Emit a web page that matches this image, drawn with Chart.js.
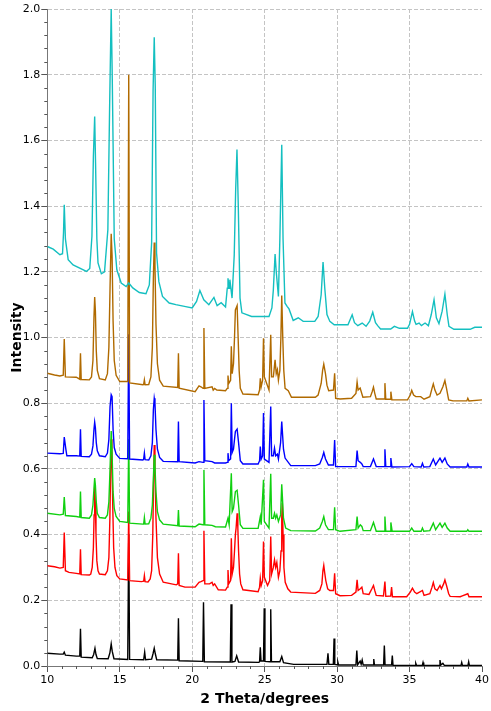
<!DOCTYPE html>
<html>
<head>
<meta charset="utf-8">
<script src="https://cdn.jsdelivr.net/npm/chart.js@4/dist/chart.umd.min.js"></script>
<style>
html,body{margin:0;padding:0;background:#fff;}
#wrap{width:491px;height:711px;}
</style>
</head>
<body>
<div id="wrap"><canvas id="c" width="491" height="711"></canvas></div>
<script>
// ---- Data (2θ, intensity) ----
const xTicks = [10, 15, 20, 25, 30, 35, 40];
const yTicks = [0.0, 0.2, 0.4, 0.6, 0.8, 1.0, 1.2, 1.4, 1.6, 1.8, 2.0];
const xMinorTicks = [11,12,13,14,16,17,18,19,21,22,23,24,26,27,28,29,31,32,33,34,36,37,38,39];
const yMinorTicks = [0.04,0.08,0.12,0.16,0.24,0.28,0.32,0.36,0.44,0.48,0.52,0.56,0.64,0.68,0.72,0.76,0.84,0.88,0.92,0.96,1.04,1.08,1.12,1.16,1.24,1.28,1.32,1.36,1.44,1.48,1.52,1.56,1.64,1.68,1.72,1.76,1.84,1.88,1.92,1.96];

const seriesBlack = [[10.0,0.039],[10.87,0.036],[11.1,0.036],[11.17,0.042],[11.25,0.033],[12.0,0.030],[12.24,0.030],[12.29,0.113],[12.34,0.027],[13.1,0.025],[13.2,0.035],[13.29,0.054],[13.36,0.035],[13.45,0.023],[14.2,0.022],[14.32,0.04],[14.41,0.067],[14.48,0.045],[14.6,0.022],[15.55,0.020],[15.62,0.40],[15.68,0.020],[16.65,0.019],[16.72,0.042],[16.78,0.019],[17.2,0.021],[17.3,0.038],[17.38,0.054],[17.45,0.038],[17.55,0.019],[19.0,0.018],[19.05,0.145],[19.1,0.016],[20.73,0.014],[20.78,0.194],[20.84,0.013],[22.63,0.012],[22.68,0.188],[22.74,0.012],[22.95,0.014],[23.07,0.031],[23.2,0.012],[24.6,0.011],[24.65,0.013],[24.7,0.057],[24.75,0.015],[24.92,0.015],[24.97,0.176],[25.02,0.014],[25.37,0.013],[25.42,0.173],[25.47,0.013],[26.05,0.013],[26.18,0.029],[26.3,0.010],[27.0,0.005],[29.3,0.005],[29.37,0.039],[29.43,0.005],[29.74,0.005],[29.79,0.084],[29.84,0.005],[30.0,0.004],[30.05,0.012],[30.1,0.003],[31.3,0.003],[31.36,0.047],[31.42,0.004],[31.59,0.015],[31.66,0.005],[31.73,0.018],[31.8,0.003],[32.48,0.003],[32.53,0.021],[32.58,0.003],[33.21,0.003],[33.26,0.062],[33.31,0.003],[33.76,0.003],[33.81,0.032],[33.86,0.002],[35.38,0.002],[35.43,0.008],[35.48,0.002],[35.88,0.002],[35.93,0.011],[35.98,0.002],[37.05,0.002],[37.1,0.018],[37.16,0.003],[37.3,0.008],[37.4,0.002],[38.55,0.002],[38.6,0.011],[38.65,0.002],[39.03,0.002],[39.08,0.013],[39.13,0.002],[40.0,0.002]];

const seriesRed = [[10.0,0.305],[10.5,0.302],[10.87,0.298],[11.1,0.30],[11.17,0.406],[11.25,0.29],[11.5,0.285],[12.0,0.282],[12.24,0.28],[12.29,0.355],[12.34,0.278],[12.9,0.277],[13.0,0.28],[13.1,0.30],[13.18,0.36],[13.23,0.46],[13.27,0.55],[13.31,0.50],[13.36,0.40],[13.42,0.32],[13.5,0.29],[13.6,0.28],[14.0,0.278],[14.15,0.29],[14.25,0.33],[14.32,0.45],[14.37,0.60],[14.41,0.69],[14.46,0.63],[14.52,0.48],[14.58,0.36],[14.67,0.30],[14.8,0.275],[15.0,0.265],[15.55,0.262],[15.62,0.47],[15.68,0.26],[16.5,0.257],[16.65,0.258],[16.7,0.275],[16.75,0.257],[16.95,0.256],[17.1,0.265],[17.2,0.29],[17.28,0.40],[17.33,0.55],[17.38,0.673],[17.43,0.60],[17.5,0.45],[17.6,0.33],[17.75,0.28],[18.0,0.255],[18.9,0.247],[19.0,0.25],[19.05,0.343],[19.1,0.245],[19.5,0.24],[20.2,0.24],[20.47,0.255],[20.6,0.257],[20.75,0.26],[20.81,0.412],[20.87,0.25],[21.2,0.25],[21.37,0.255],[21.45,0.245],[21.55,0.25],[21.8,0.232],[22.3,0.231],[22.42,0.24],[22.47,0.292],[22.52,0.25],[22.65,0.26],[22.7,0.389],[22.76,0.28],[22.85,0.30],[22.92,0.35],[22.98,0.40],[23.03,0.42],[23.1,0.465],[23.15,0.42],[23.2,0.35],[23.27,0.28],[23.35,0.25],[23.5,0.232],[24.55,0.226],[24.65,0.24],[24.7,0.267],[24.76,0.245],[24.86,0.26],[24.92,0.379],[24.98,0.27],[25.2,0.245],[25.35,0.26],[25.42,0.394],[25.48,0.28],[25.6,0.30],[25.68,0.323],[25.76,0.30],[25.84,0.315],[25.95,0.27],[26.05,0.29],[26.13,0.35],[26.18,0.45],[26.22,0.496],[26.27,0.40],[26.33,0.30],[26.42,0.255],[26.6,0.235],[26.8,0.225],[28.5,0.221],[28.8,0.23],[28.95,0.25],[29.02,0.29],[29.08,0.306],[29.14,0.285],[29.22,0.26],[29.35,0.235],[29.5,0.23],[29.75,0.23],[29.83,0.282],[29.9,0.22],[30.2,0.214],[31.0,0.215],[31.3,0.225],[31.38,0.262],[31.45,0.23],[31.6,0.235],[31.71,0.24],[31.8,0.22],[32.2,0.218],[32.4,0.235],[32.51,0.245],[32.6,0.23],[32.7,0.215],[33.2,0.213],[33.3,0.257],[33.36,0.212],[33.7,0.213],[33.76,0.24],[33.82,0.211],[34.8,0.211],[35.05,0.225],[35.2,0.237],[35.35,0.225],[35.5,0.22],[35.89,0.23],[36.0,0.215],[36.4,0.22],[36.55,0.24],[36.64,0.254],[36.75,0.235],[36.9,0.23],[37.1,0.245],[37.2,0.235],[37.35,0.25],[37.44,0.262],[37.55,0.245],[37.7,0.22],[37.8,0.212],[38.5,0.211],[38.6,0.213],[39.02,0.22],[39.1,0.211],[40.0,0.211]];

const seriesGreen = [[10.0,0.465],[10.87,0.46],[11.1,0.462],[11.17,0.514],[11.25,0.458],[12.0,0.455],[12.24,0.453],[12.29,0.531],[12.34,0.452],[12.9,0.45],[13.05,0.46],[13.15,0.49],[13.22,0.54],[13.27,0.572],[13.32,0.55],[13.38,0.50],[13.45,0.465],[13.6,0.452],[14.0,0.45],[14.15,0.46],[14.25,0.50],[14.33,0.60],[14.41,0.715],[14.47,0.65],[14.54,0.53],[14.62,0.48],[14.75,0.455],[15.0,0.44],[15.55,0.437],[15.62,0.69],[15.68,0.435],[16.6,0.432],[16.65,0.432],[16.7,0.452],[16.75,0.432],[17.0,0.433],[17.15,0.45],[17.25,0.49],[17.32,0.57],[17.38,0.643],[17.43,0.61],[17.5,0.53],[17.6,0.47],[17.75,0.445],[18.0,0.432],[19.0,0.427],[19.05,0.475],[19.1,0.426],[20.2,0.424],[20.47,0.432],[20.75,0.43],[20.81,0.597],[20.87,0.43],[21.37,0.428],[21.6,0.424],[22.3,0.423],[22.47,0.45],[22.55,0.43],[22.7,0.587],[22.76,0.47],[22.85,0.48],[22.98,0.531],[23.1,0.535],[23.2,0.49],[23.32,0.43],[23.5,0.419],[24.55,0.419],[24.7,0.455],[24.76,0.43],[24.92,0.567],[24.98,0.44],[25.3,0.42],[25.42,0.585],[25.48,0.45],[25.6,0.45],[25.68,0.465],[25.76,0.45],[25.84,0.46],[25.95,0.44],[26.1,0.46],[26.18,0.553],[26.3,0.45],[26.45,0.42],[26.8,0.412],[28.5,0.411],[28.8,0.42],[28.98,0.44],[29.08,0.455],[29.2,0.43],[29.4,0.415],[29.75,0.415],[29.83,0.483],[29.9,0.415],[30.2,0.41],[31.3,0.415],[31.38,0.455],[31.45,0.42],[31.6,0.43],[31.71,0.425],[31.8,0.412],[32.3,0.412],[32.51,0.437],[32.7,0.41],[33.25,0.41],[33.3,0.455],[33.36,0.41],[33.66,0.41],[33.71,0.437],[33.8,0.41],[35.0,0.41],[35.15,0.42],[35.3,0.41],[35.8,0.41],[35.89,0.42],[35.98,0.41],[36.4,0.412],[36.64,0.435],[36.8,0.415],[37.1,0.435],[37.25,0.422],[37.44,0.435],[37.6,0.42],[37.8,0.41],[38.95,0.41],[39.02,0.415],[39.1,0.41],[40.0,0.41]];

const seriesBlue = [[10.0,0.648],[10.87,0.646],[11.1,0.647],[11.17,0.697],[11.28,0.66],[11.35,0.64],[12.0,0.64],[12.24,0.639],[12.29,0.721],[12.34,0.638],[12.9,0.637],[13.05,0.645],[13.15,0.67],[13.22,0.72],[13.27,0.742],[13.32,0.725],[13.38,0.68],[13.45,0.655],[13.6,0.64],[14.0,0.637],[14.15,0.648],[14.25,0.69],[14.33,0.79],[14.41,0.826],[14.47,0.82],[14.54,0.72],[14.62,0.665],[14.75,0.645],[15.0,0.632],[15.55,0.631],[15.62,1.01],[15.68,0.63],[16.6,0.627],[16.65,0.63],[16.7,0.648],[16.75,0.628],[17.0,0.627],[17.15,0.64],[17.25,0.68],[17.32,0.78],[17.38,0.815],[17.43,0.80],[17.5,0.72],[17.6,0.66],[17.75,0.635],[18.0,0.623],[19.0,0.622],[19.05,0.744],[19.1,0.622],[20.2,0.618],[20.47,0.622],[20.75,0.62],[20.81,0.81],[20.87,0.625],[21.37,0.622],[21.55,0.618],[22.3,0.618],[22.42,0.62],[22.47,0.648],[22.52,0.625],[22.65,0.63],[22.7,0.80],[22.76,0.65],[22.85,0.66],[22.92,0.69],[22.98,0.714],[23.1,0.721],[23.2,0.68],[23.32,0.625],[23.5,0.615],[24.55,0.615],[24.65,0.625],[24.7,0.668],[24.76,0.63],[24.86,0.64],[24.92,0.77],[24.98,0.63],[25.3,0.62],[25.42,0.79],[25.48,0.64],[25.6,0.64],[25.68,0.663],[25.76,0.64],[25.88,0.645],[25.95,0.63],[26.1,0.68],[26.18,0.744],[26.3,0.66],[26.41,0.633],[26.8,0.61],[28.5,0.61],[28.8,0.615],[28.98,0.635],[29.08,0.65],[29.2,0.63],[29.4,0.612],[29.75,0.612],[29.83,0.688],[29.9,0.607],[31.3,0.607],[31.38,0.656],[31.45,0.625],[31.6,0.62],[31.71,0.615],[31.8,0.607],[32.3,0.607],[32.51,0.63],[32.7,0.607],[33.25,0.607],[33.3,0.66],[33.36,0.607],[33.66,0.607],[33.71,0.633],[33.78,0.606],[35.0,0.607],[35.15,0.616],[35.3,0.607],[35.8,0.606],[35.89,0.617],[35.98,0.606],[36.4,0.607],[36.64,0.63],[36.8,0.612],[37.1,0.633],[37.25,0.62],[37.44,0.633],[37.6,0.615],[37.8,0.606],[38.95,0.606],[39.02,0.615],[39.1,0.606],[40.0,0.606]];

const seriesBrown = [[10.0,0.891],[10.5,0.886],[10.87,0.883],[11.1,0.885],[11.17,0.995],[11.25,0.88],[12.0,0.879],[12.24,0.873],[12.29,0.952],[12.34,0.872],[12.9,0.871],[13.05,0.88],[13.15,0.93],[13.22,1.06],[13.27,1.123],[13.32,1.08],[13.38,0.96],[13.45,0.90],[13.6,0.875],[14.0,0.871],[14.15,0.89],[14.25,0.97],[14.33,1.15],[14.41,1.316],[14.47,1.25],[14.54,1.05],[14.62,0.93],[14.75,0.885],[15.0,0.866],[15.55,0.866],[15.62,1.80],[15.68,0.862],[16.6,0.856],[16.65,0.857],[16.7,0.871],[16.75,0.856],[17.0,0.857],[17.15,0.88],[17.25,0.97],[17.32,1.18],[17.38,1.289],[17.43,1.22],[17.5,1.04],[17.6,0.92],[17.75,0.87],[18.0,0.852],[19.0,0.848],[19.05,0.952],[19.1,0.846],[20.2,0.835],[20.47,0.853],[20.6,0.85],[20.75,0.845],[20.81,1.029],[20.87,0.845],[21.37,0.85],[21.45,0.84],[21.55,0.845],[21.7,0.84],[22.3,0.838],[22.42,0.845],[22.47,0.884],[22.52,0.86],[22.65,0.87],[22.7,0.973],[22.76,0.89],[22.85,0.92],[22.92,1.00],[22.98,1.084],[23.1,1.097],[23.17,1.00],[23.24,0.90],[23.32,0.845],[23.5,0.828],[24.55,0.826],[24.65,0.84],[24.7,0.876],[24.76,0.85],[24.86,0.87],[24.92,0.998],[24.98,0.88],[25.3,0.84],[25.42,1.008],[25.48,0.88],[25.6,0.88],[25.72,0.932],[25.8,0.89],[25.88,0.902],[25.95,0.87],[26.05,0.90],[26.12,1.00],[26.18,1.128],[26.25,1.00],[26.32,0.90],[26.41,0.845],[26.63,0.838],[26.85,0.818],[28.5,0.818],[28.69,0.825],[28.9,0.86],[29.0,0.90],[29.08,0.919],[29.2,0.889],[29.3,0.855],[29.42,0.838],[29.75,0.84],[29.83,0.891],[29.9,0.815],[30.2,0.813],[31.0,0.815],[31.3,0.83],[31.38,0.864],[31.45,0.84],[31.59,0.846],[31.78,0.818],[32.3,0.82],[32.42,0.835],[32.51,0.849],[32.6,0.83],[32.7,0.813],[33.25,0.813],[33.3,0.861],[33.36,0.812],[33.66,0.812],[33.71,0.835],[33.78,0.81],[34.86,0.81],[35.05,0.825],[35.15,0.839],[35.28,0.825],[35.43,0.82],[35.77,0.82],[36.0,0.812],[36.4,0.82],[36.55,0.845],[36.64,0.859],[36.75,0.84],[36.9,0.825],[37.1,0.83],[37.3,0.85],[37.44,0.869],[37.55,0.845],[37.7,0.81],[38.0,0.807],[38.95,0.807],[39.02,0.815],[39.1,0.807],[40.0,0.81]];

const seriesCyan = [[10.0,1.277],[10.41,1.269],[10.87,1.252],[11.05,1.255],[11.12,1.32],[11.17,1.404],[11.25,1.30],[11.44,1.237],[11.78,1.221],[12.24,1.211],[12.7,1.201],[12.93,1.21],[13.08,1.308],[13.18,1.55],[13.27,1.673],[13.33,1.532],[13.42,1.30],[13.5,1.227],[13.73,1.194],[13.95,1.20],[14.18,1.328],[14.3,1.70],[14.41,2.0],[14.48,1.80],[14.54,1.59],[14.62,1.30],[14.8,1.206],[15.1,1.166],[15.44,1.155],[15.62,1.166],[15.9,1.151],[16.35,1.137],[16.81,1.133],[17.04,1.16],[17.2,1.288],[17.3,1.75],[17.38,1.914],[17.45,1.765],[17.54,1.257],[17.7,1.17],[17.95,1.125],[18.41,1.105],[18.87,1.10],[19.55,1.094],[20.0,1.09],[20.3,1.11],[20.53,1.143],[20.8,1.115],[21.15,1.10],[21.5,1.122],[21.72,1.097],[22.0,1.106],[22.3,1.093],[22.42,1.15],[22.47,1.18],[22.55,1.15],[22.6,1.176],[22.75,1.12],[22.9,1.25],[23.0,1.45],[23.09,1.572],[23.18,1.40],[23.3,1.12],[23.43,1.075],[24.1,1.064],[25.3,1.064],[25.5,1.09],[25.6,1.145],[25.72,1.254],[25.8,1.20],[25.95,1.125],[26.05,1.30],[26.18,1.587],[26.27,1.30],[26.4,1.105],[26.55,1.095],[26.68,1.087],[26.97,1.052],[27.32,1.06],[27.66,1.049],[28.46,1.049],[28.69,1.064],[28.9,1.13],[29.03,1.23],[29.15,1.15],[29.3,1.07],[29.5,1.049],[29.8,1.039],[30.75,1.039],[31.04,1.069],[31.2,1.045],[31.43,1.036],[31.73,1.044],[32.0,1.034],[32.25,1.05],[32.46,1.077],[32.65,1.045],[32.8,1.036],[33.0,1.026],[33.7,1.026],[33.95,1.034],[34.3,1.028],[34.86,1.028],[35.0,1.04],[35.2,1.079],[35.35,1.05],[35.45,1.04],[35.66,1.044],[35.82,1.036],[36.07,1.044],[36.3,1.036],[36.5,1.07],[36.69,1.115],[36.85,1.06],[37.03,1.042],[37.25,1.08],[37.44,1.132],[37.6,1.07],[37.72,1.034],[38.06,1.025],[39.18,1.025],[39.5,1.031],[40.0,1.031]];

// ---- Chart ----
const toXY = arr => arr.map(p => ({x: p[0], y: p[1]}));
const mk = (data, color) => ({data: toXY(data), borderColor: color, borderWidth: 1.4, pointRadius: 0, tension: 0, fill: false});

const minorTicksPlugin = {
  id: 'minorTicks',
  afterDraw(chart) {
    const {ctx, chartArea: a, scales: {x, y}} = chart;
    ctx.save();
    ctx.strokeStyle = '#555';
    ctx.lineWidth = 1;
    ctx.beginPath();
    xMinorTicks.forEach(v => {
      const px = Math.round(x.getPixelForValue(v)) + 0.5;
      ctx.moveTo(px, a.bottom); ctx.lineTo(px, a.bottom + 3);
    });
    yMinorTicks.forEach(v => {
      const py = Math.round(y.getPixelForValue(v)) + 0.5;
      ctx.moveTo(a.left - 3, py); ctx.lineTo(a.left, py);
    });
    ctx.stroke();
    ctx.restore();
  }
};

const tickFont = {family: "Tahoma, 'DejaVu Sans', sans-serif", size: 11};
const titleFont = {family: "Tahoma, 'DejaVu Sans', sans-serif", size: 14, weight: 'bold'};

new Chart(document.getElementById('c'), {
  type: 'line',
  data: {
    datasets: [
      mk(seriesCyan, '#14bfc0'),
      mk(seriesBrown, '#b06a00'),
      mk(seriesBlue, '#0000ff'),
      mk(seriesGreen, '#10d010'),
      mk(seriesRed, '#ff0000'),
      mk(seriesBlack, '#000000')
    ]
  },
  plugins: [minorTicksPlugin],
  options: {
    responsive: false,
    animation: false,
    devicePixelRatio: 1,
    layout: {padding: {left: 0, right: 6, top: 9, bottom: 0}},
    plugins: {legend: {display: false}, tooltip: {enabled: false}},
    scales: {
      x: {
        type: 'linear', min: 10, max: 40,
        afterBuildTicks: s => { s.ticks = xTicks.map(v => ({value: v})); },
        afterFit: s => { s.height = 45; },
        ticks: {font: tickFont, color: '#000', padding: 2, maxRotation: 0, callback: v => String(v)},
        grid: {
          color: ctx => (ctx.tick && ctx.tick.value === 40) ? 'rgba(0,0,0,0)' : '#c4c4c4',
          lineWidth: 1, tickLength: 6, tickColor: '#555', tickBorderDash: []
        },
        border: {display: true, color: '#777', width: 1, dash: [4, 2]},
        title: {display: true, text: '2 Theta/degrees', font: titleFont, color: '#000', padding: {top: 0, bottom: 3}}
      },
      y: {
        type: 'linear', min: 0, max: 2.0,
        afterBuildTicks: s => { s.ticks = yTicks.map(v => ({value: v})); },
        afterFit: s => { s.width = 47.3; },
        ticks: {font: tickFont, color: '#000', padding: 1, callback: v => Number(v).toFixed(1)},
        grid: {color: '#c4c4c4', lineWidth: 1, tickLength: 6, tickColor: '#555', tickBorderDash: []},
        border: {display: true, color: '#777', width: 1, dash: [4, 2]},
        title: {display: true, text: 'Intensity', font: titleFont, color: '#000', padding: {top: 9, bottom: 0}}
      }
    }
  }
});
</script>
</body>
</html>
